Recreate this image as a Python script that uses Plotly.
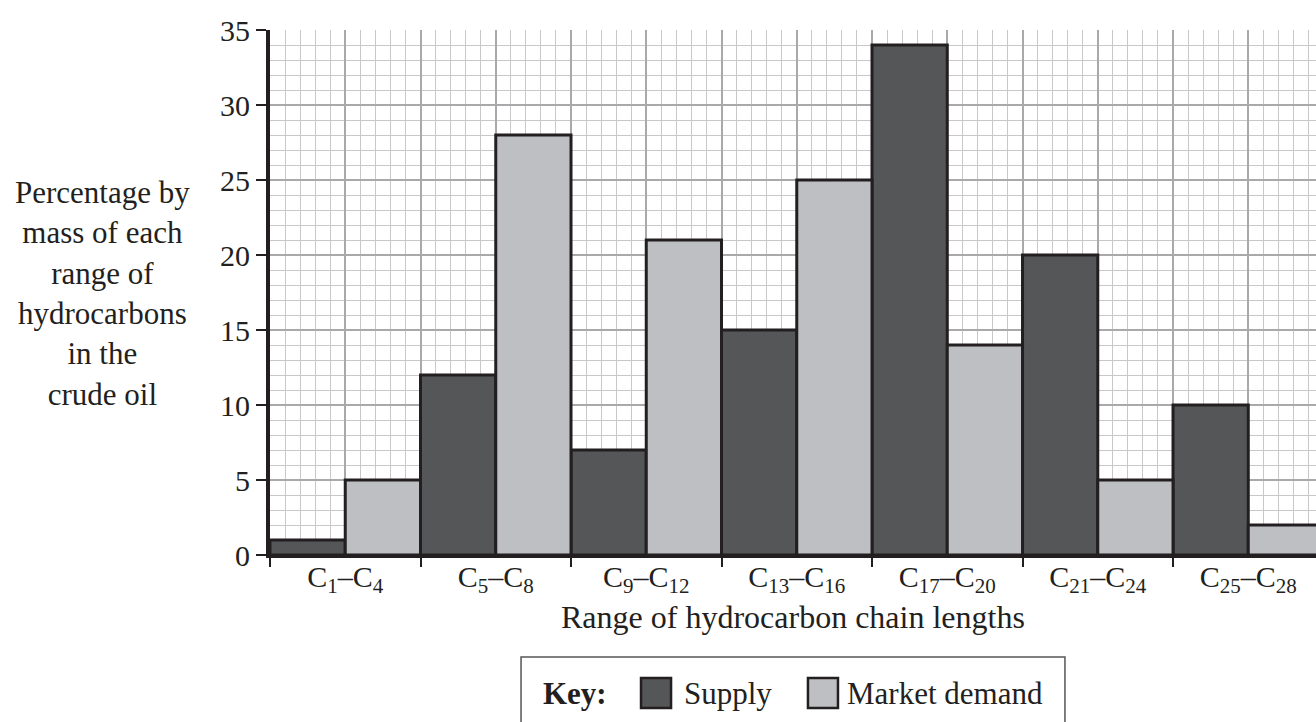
import plotly.graph_objects as go

# Carbon-number ranges (lower, upper) for each group of hydrocarbons
chain_ranges = [(1, 4), (5, 8), (9, 12), (13, 16), (17, 20), (21, 24), (25, 28)]
# Percentage by mass in the crude oil
supply = [1, 12, 7, 15, 34, 20, 10]
market_demand = [5, 28, 21, 25, 14, 5, 2]
y_ticks = [0, 5, 10, 15, 20, 25, 30, 35]

tick_labels = [f"C<sub>{a}</sub>–C<sub>{b}</sub>" for a, b in chain_ranges]

FONT = "Liberation Serif, Times New Roman, serif"
FS = 30
INK = "#231f20"
SUPPLY_FILL = "#555658"
DEMAND_FILL = "#bebfc2"
MAJOR_GRID = "#a9a9ab"
MINOR_GRID = "#c8c8ca"

n = len(chain_ranges)
groups = list(range(n))
x_max = 6.95  # right edge of the plotting area, in group units

fig = go.Figure()
fig.add_trace(go.Bar(
    x=[g + 0.25 for g in groups], y=supply, width=0.5, name="Supply",
    marker=dict(color=SUPPLY_FILL, line=dict(color=INK, width=3)),
))
fig.add_trace(go.Bar(
    x=[g + 0.75 for g in groups], y=market_demand, width=0.5, name="Market demand",
    marker=dict(color=DEMAND_FILL, line=dict(color=INK, width=3)),
))
# invisible trace that carries the boundary axis
fig.add_trace(go.Scatter(x=[0], y=[0], xaxis="x2", mode="markers",
                         marker=dict(opacity=0), showlegend=False, hoverinfo="skip"))

fig.update_layout(
    width=1316, height=722,
    margin=dict(l=270, r=0, t=30, b=167),
    paper_bgcolor="white", plot_bgcolor="white",
    barmode="overlay", showlegend=False,
    font=dict(family=FONT, size=FS, color=INK),
    xaxis=dict(
        range=[0, x_max], tickvals=[g + 0.5 for g in groups], ticktext=tick_labels,
        ticks="", showline=False, zeroline=False,
        showgrid=True, gridcolor=MAJOR_GRID, gridwidth=2,
        minor=dict(tick0=0, dtick=0.1, showgrid=True, gridcolor=MINOR_GRID, gridwidth=1),
        tickfont=dict(family=FONT, size=FS, color=INK),
        ticklabelstandoff=1,
    ),
    xaxis2=dict(
        range=[0, x_max], overlaying="x", anchor="y", side="bottom",
        tickvals=list(range(n + 1)), showticklabels=False,
        ticks="outside", ticklen=9, tickwidth=1.5, tickcolor=INK,
        showgrid=True, gridcolor=MAJOR_GRID, gridwidth=2,
        showline=True, linecolor=INK, linewidth=3, zeroline=False,
    ),
    yaxis=dict(
        range=[0, 35], tickvals=y_ticks, ticks="outside", ticklen=10, tickwidth=1.5,
        tickcolor=INK, showline=True, linecolor=INK, linewidth=4, zeroline=False,
        showgrid=True, gridcolor=MAJOR_GRID, gridwidth=2,
        minor=dict(tick0=0, dtick=1, showgrid=True, gridcolor=MINOR_GRID, gridwidth=1),
        tickfont=dict(family=FONT, size=FS, color=INK),
    ),
)

# horizontal y-axis caption on the left
fig.add_annotation(
    text="Percentage by<br>mass of each<br>range of<br>hydrocarbons<br>in the<br>crude oil",
    xref="paper", yref="paper", x=-0.1606, y=0.499, xanchor="center", yanchor="middle",
    showarrow=False, align="center", font=dict(family=FONT, size=31, color=INK),
)
# x-axis caption
fig.add_annotation(
    text="Range of hydrocarbon chain lengths",
    xref="paper", yref="paper", x=0.5, y=-0.1181, xanchor="center", yanchor="middle",
    showarrow=False, font=dict(family=FONT, size=32, color=INK),
)

# key box below the chart
fig.add_shape(type="rect", xref="paper", yref="paper", x0=0.24, x1=0.76, y0=-0.45, y1=-0.1943,
              line=dict(color="#555555", width=1.5), fillcolor="rgba(0,0,0,0)")
fig.add_annotation(text="<b>Key:</b>", xref="paper", yref="paper", x=0.2591, y=-0.2629,
                   xanchor="left", yanchor="middle", showarrow=False,
                   font=dict(family=FONT, size=31, color=INK))
key_items = [("Supply", SUPPLY_FILL, 0.3547, 0.3939),
             ("Market demand", DEMAND_FILL, 0.5143, 0.5497)]
for label, fill, sx, tx in key_items:
    fig.add_shape(type="rect", xref="paper", yref="paper", x0=sx, x1=sx + 0.0287,
                  y0=-0.2914, y1=-0.2343, fillcolor=fill, line=dict(color=INK, width=2.5))
    fig.add_annotation(text=label, xref="paper", yref="paper", x=tx, y=-0.2629,
                       xanchor="left", yanchor="middle", showarrow=False,
                       font=dict(family=FONT, size=31, color=INK))

fig.write_html("out.html")
